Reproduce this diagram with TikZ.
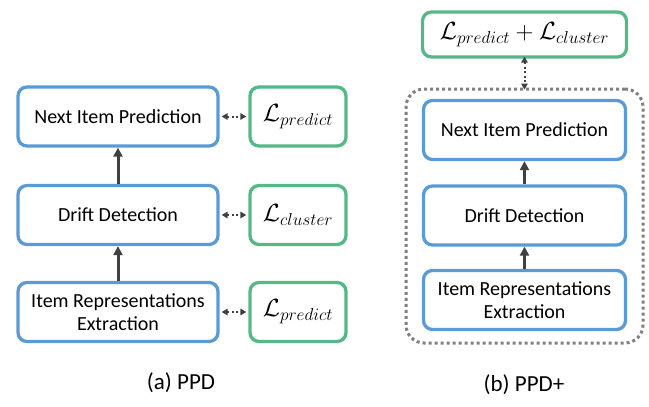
\documentclass[tikz,border=0pt]{standalone}
\usepackage{fontspec}
\setmainfont{Carlito}
\usetikzlibrary{arrows.meta}
\definecolor{bblue}{HTML}{5B9BD5}
\definecolor{bgreen}{HTML}{54B888}
\definecolor{agray}{HTML}{404040}
\definecolor{dgray}{HTML}{808080}
\begin{document}
\begin{tikzpicture}[x=1pt,y=-1pt,
  bbox/.style={draw=bblue,line width=3.3pt,rounded corners=9pt,fill=white,align=center,font=\fontsize{20}{23}\selectfont,inner sep=0pt},
  gbox/.style={draw=bgreen,line width=3.3pt,rounded corners=9pt,fill=white,inner sep=0pt,font=\fontsize{24}{26}\selectfont},
  flow/.style={draw=agray,line width=3pt,-{Triangle[length=9pt,width=9pt]}},
  lossarr/.style={draw=agray,line width=2pt,dash pattern=on 2pt off 2.5pt,{Triangle[length=6pt,width=6.5pt]}-{Triangle[length=6pt,width=6.5pt]}},
  frame/.style={draw=dgray,line width=3pt,dash pattern=on 3pt off 3pt,rounded corners=18pt},
  captxt/.style={font=\fontsize{23}{26}\selectfont}]
\useasboundingbox (0,0) rectangle (649,407);
% left panel
\node[bbox,minimum width=200pt,minimum height=59pt] (n1) at (118,116.5) {Next Item Prediction};
\node[bbox,minimum width=200pt,minimum height=59pt] (d1) at (118,215) {Drift Detection};
\node[bbox,minimum width=200pt,minimum height=59pt] (i1) at (118,312) {Item Representations\\Extraction};
\node[gbox,minimum width=96pt,minimum height=59pt] (g1) at (298,116.5) {$\mathcal{L}_{predict}$};
\node[gbox,minimum width=96pt,minimum height=59pt] (g2) at (298,215) {$\mathcal{L}_{cluster}$};
\node[gbox,minimum width=96pt,minimum height=59pt] (g3) at (298,312) {$\mathcal{L}_{predict}$};
\draw[flow] (i1.north) -- (d1.south);
\draw[flow] (d1.north) -- (n1.south);
\draw[lossarr] ([xshift=2pt]n1.east) -- ([xshift=-2pt]g1.west);
\draw[lossarr] ([xshift=2pt]d1.east) -- ([xshift=-2pt]g2.west);
\draw[lossarr] ([xshift=2pt]i1.east) -- ([xshift=-2pt]g3.west);
\node[captxt] (ca) at (181,383) {(a) PPD};
% right panel
\node[gbox,minimum width=204pt,minimum height=45pt] (gt) at (524.5,34.5) {$\mathcal{L}_{predict}+\mathcal{L}_{cluster}$};
\node[bbox,minimum width=202pt,minimum height=59pt] (n2) at (524.5,130) {Next Item Prediction};
\node[bbox,minimum width=202pt,minimum height=59pt] (d2) at (524.5,215.5) {Drift Detection};
\node[bbox,minimum width=202pt,minimum height=59pt] (i2) at (524.5,300) {Item Representations\\Extraction};
\node[frame,minimum width=237pt,minimum height=254pt] (fr) at (524.5,216) {};
\draw[flow] (i2.north) -- (d2.south);
\draw[flow] (d2.north) -- (n2.south);
\draw[lossarr] ([yshift=2pt]gt.south) -- ([yshift=-2pt]fr.north);
\node[captxt] (cb) at (524,385) {(b) PPD+};
\end{tikzpicture}
\end{document}
